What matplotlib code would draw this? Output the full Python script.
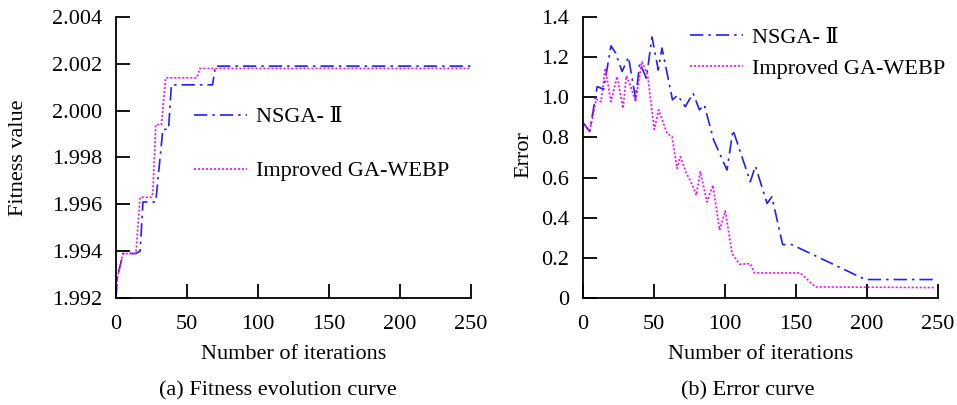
import numpy as np
import matplotlib as mpl
mpl.use("Agg")
import matplotlib.pyplot as plt

plt.rcParams['font.family'] = ['Liberation Serif', 'DejaVu Serif']
plt.rcParams['font.size'] = 16
plt.rcParams['mathtext.default'] = 'regular'

# (a) fitness evolution (step-like curves)
fit_nsga_x = [0, 1, 5, 14, 17, 19, 28, 33, 37, 39, 68, 70, 250]
fit_nsga_y = [1.9920, 1.9929, 1.9939, 1.9939, 1.9940, 1.9961, 1.9961, 1.9992, 1.9992, 2.0011, 2.0011, 2.0019, 2.0019]
fit_imp_x = [0, 1, 5, 14, 17, 25, 26, 28, 32, 35, 57, 59, 250]
fit_imp_y = [1.9920, 1.9929, 1.9939, 1.9939, 1.9963, 1.9963, 1.9965, 1.9994, 1.9994, 2.0014, 2.0014, 2.0018, 2.0018]

# (b) error curves
err_nsga_x = [0, 4.7, 10, 14.5, 19.7, 23, 27.5, 32, 37, 40, 44.6, 48.6, 53, 55.6, 63, 66.7,
              72, 77.5, 82, 85.4, 92, 101.4, 105.6, 117.8, 121.4, 129.6, 133, 140.6, 147,
              198.8, 247]
err_nsga_y = [0.874, 0.829, 1.053, 1.04, 1.256, 1.22, 1.128, 1.2, 0.995, 1.17, 1.095, 1.30,
              1.136, 1.245, 0.987, 1.01, 0.953, 1.02, 0.937, 0.962, 0.787, 0.637, 0.837,
              0.579, 0.657, 0.471, 0.504, 0.266, 0.266, 0.092, 0.092]
err_imp_x = [0, 4.7, 9.4, 12.7, 15.7, 19.7, 24, 28.2, 30.5, 33.3, 37, 41.5, 45.5, 50.2,
             53.3, 59.2, 62.7, 66.2, 68.5, 72.8, 76, 79.8, 82.6, 87.3, 91.5, 96.2, 100.2,
             105, 110.3, 117.8, 120.7, 153, 163.6, 248]
err_imp_y = [0.874, 0.829, 0.99, 0.978, 1.145, 0.978, 1.103, 0.945, 1.106, 1.06, 0.978,
             1.178, 1.111, 0.84, 0.937, 0.82, 0.804, 0.646, 0.704, 0.621, 0.579, 0.512,
             0.629, 0.479, 0.562, 0.338, 0.434, 0.221, 0.168, 0.171, 0.125, 0.125, 0.055,
             0.052]

labels = ['NSGA- \u2161', 'Improved GA-WEBP']
blue = '#1f1fff'
magenta = '#ff00ff'

fig = plt.figure(figsize=(9.57, 4.05), dpi=100)
ax1 = fig.add_axes([0.1212, 0.2642, 0.371, 0.694])
ax2 = fig.add_axes([0.6092, 0.2642, 0.371, 0.694])

for ax in (ax1, ax2):
    ax.spines['top'].set_visible(False)
    ax.spines['right'].set_visible(False)
    ax.spines['left'].set_linewidth(1.3)
    ax.spines['bottom'].set_linewidth(1.3)
    ax.tick_params(direction='in', length=10, width=1.3, labelsize=16)
    ax.tick_params(axis='x', pad=12)
    ax.tick_params(axis='y', pad=10)
    ax.set_xlim(0, 250)
    ax.set_xticks([0, 50, 100, 150, 200, 250])
    ax.set_xlabel('Number of iterations', fontsize=16, labelpad=8)

ax1.plot(fit_nsga_x, fit_nsga_y, color=blue, lw=1.2, dashes=(8, 3, 1.5, 3), label=labels[0])
ax1.plot(fit_imp_x, fit_imp_y, color=magenta, lw=1.2, dashes=(1.2, 1.2), label=labels[1])
ax1.set_ylim(1.992, 2.004)
ax1.set_yticks([1.992, 1.994, 1.996, 1.998, 2.000, 2.002, 2.004])
ax1.set_yticklabels(['1.992', '1.994', '1.996', '1.998', '2.000', '2.002', '2.004'])
ax1.set_ylabel('Fitness value', fontsize=16)
ax1.yaxis.set_label_coords(-0.247, 0.5)
ax1.legend(loc='upper left', bbox_to_anchor=(0.22, 0.68), frameon=False, borderpad=0,
           borderaxespad=0, handlelength=2.4, handletextpad=0.4, labelspacing=1.5,
           fontsize=16)

ax2.plot(err_nsga_x, err_nsga_y, color=blue, lw=1.2, dashes=(8, 3, 1.5, 3), label=labels[0])
ax2.plot(err_imp_x, err_imp_y, color=magenta, lw=1.2, dashes=(1.2, 1.2), label=labels[1])
ax2.set_ylim(0, 1.4)
ax2.set_yticks([0, 0.2, 0.4, 0.6, 0.8, 1.0, 1.2, 1.4])
ax2.set_yticklabels(['0', '0.2', '0.4', '0.6', '0.8', '1.0', '1.2', '1.4'])
ax2.set_ylabel('Error', fontsize=16)
ax2.yaxis.set_label_coords(-0.141, 0.51)
ax2.legend(loc='upper left', bbox_to_anchor=(0.301, 0.962), frameon=False, borderpad=0,
           borderaxespad=0, handlelength=2.4, handletextpad=0.4, labelspacing=0.45,
           fontsize=16)

fig.text(0.2907, 0.035, '(a) Fitness evolution curve', ha='center', va='center', fontsize=16)
fig.text(0.7816, 0.035, '(b) Error curve', ha='center', va='center', fontsize=16)

fig.savefig('out.png', dpi=100)
